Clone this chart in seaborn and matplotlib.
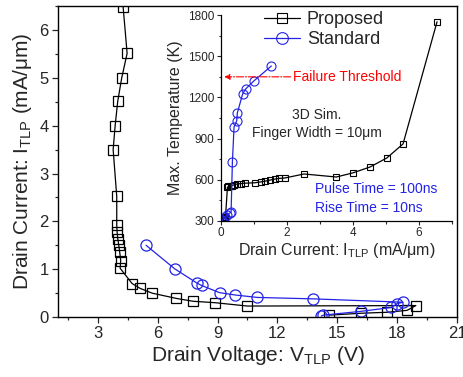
import numpy as np
import pandas as pd
import seaborn as sns
import matplotlib.pyplot as plt
from matplotlib.ticker import MultipleLocator

# main plot: TLP I-V (voltage in V, current in mA/um)
prop_v = [14.6, 16.2, 17.5, 18.5, 18.94, 10.5, 8.88, 7.77, 6.93, 5.72, 5.12, 4.72, 4.12,
          4.15, 4.1, 4.05, 4.0, 3.97, 3.95, 3.95, 3.77, 3.87, 4.0, 4.2, 4.47, 4.27]
prop_i = [0.04, 0.08, 0.1, 0.14, 0.24, 0.23, 0.3, 0.33, 0.39, 0.5, 0.6, 0.7, 1.02,
          1.18, 1.35, 1.5, 1.64, 1.77, 1.92, 2.52, 3.5, 4.0, 4.51, 5.0, 5.51, 6.48]
std_v = [14.2, 14.3, 16.2, 17.7, 18.0, 18.3, 13.8, 11.0, 9.9, 9.1, 8.2, 7.97, 6.85, 5.42]
std_i = [0.02, 0.04, 0.12, 0.2, 0.28, 0.31, 0.38, 0.41, 0.46, 0.51, 0.66, 0.71, 1.01, 1.5]

# inset: max temperature (K) vs current
prop_ti = [0.04, 0.08, 0.1, 0.14, 0.2, 0.23, 0.3, 0.33, 0.4, 0.48, 0.6, 0.73, 1.03,
           1.23, 1.35, 1.5, 1.64, 1.77, 1.94, 2.52, 3.5, 4.0, 4.52, 5.03, 5.52, 6.55]
prop_t = [305, 312, 318, 328, 545, 552, 555, 558, 563, 568, 572, 575, 578,
          585, 590, 598, 605, 610, 613, 642, 620, 650, 693, 759, 861, 1751]
std_ti = [0.02, 0.04, 0.12, 0.2, 0.27, 0.31, 0.35, 0.4, 0.48, 0.5, 0.66, 0.75, 1.0, 1.53]
std_t = [302, 306, 330, 345, 358, 364, 730, 985, 1028, 1087, 1225, 1261, 1320, 1429]

failure_t = 1350
blue = "#2323e6"

sns.set_theme(style="ticks")
plt.rcParams["font.family"] = ["Liberation Sans", "DejaVu Sans"]
plt.rcParams["mathtext.fontset"] = "custom"
plt.rcParams["mathtext.rm"] = "Liberation Sans"
plt.rcParams["mathtext.it"] = "Liberation Sans:italic"

fig = plt.figure(figsize=(4.63, 3.77), dpi=100)
ax = fig.add_axes([0.125, 0.159, 0.862, 0.825])

main_df = pd.DataFrame({"v": prop_v, "i": prop_i})
std_df = pd.DataFrame({"v": std_v, "i": std_i})
sns.lineplot(data=main_df, x="v", y="i", sort=False, estimator=None, ax=ax,
             color="black", lw=0.9, marker="s", markersize=6.5, markerfacecolor="none",
             markeredgecolor="black", markeredgewidth=0.9)
sns.lineplot(data=std_df, x="v", y="i", sort=False, estimator=None, ax=ax,
             color=blue, lw=0.9, marker="o", markersize=8, markerfacecolor="none",
             markeredgecolor=blue, markeredgewidth=0.9)

ax.set_xlim(1, 21)
ax.set_ylim(0, 6.5)
ax.xaxis.set_major_locator(MultipleLocator(3))
ax.xaxis.set_minor_locator(MultipleLocator(1.5))
ax.yaxis.set_major_locator(MultipleLocator(1))
ax.yaxis.set_minor_locator(MultipleLocator(0.5))
ax.tick_params(which="both", direction="out", top=False, right=False, labelsize=12, pad=2)
ax.tick_params(which="major", length=4.5, width=0.9)
ax.tick_params(which="minor", length=2.5, width=0.9)
for s in ax.spines.values():
    s.set_linewidth(1.0)
    s.set_color("black")
ax.set_xlabel(r"Drain Voltage: V$_{\rm TLP}$ (V)", fontsize=15, labelpad=2)
ax.set_ylabel(r"Drain Current: I$_{\rm TLP}$ (mA/μm)", fontsize=15, labelpad=4)

# inset
ins = fig.add_axes([0.477, 0.414, 0.499, 0.546])
ins.patch.set_alpha(0)
ins_p = pd.DataFrame({"i": prop_ti, "t": prop_t})
ins_s = pd.DataFrame({"i": std_ti, "t": std_t})
sns.lineplot(data=ins_p, x="i", y="t", sort=False, estimator=None, ax=ins,
             color="black", lw=0.9, marker="s", markersize=5, markerfacecolor="none",
             markeredgecolor="black", markeredgewidth=0.8, label="Proposed")
sns.lineplot(data=ins_s, x="i", y="t", sort=False, estimator=None, ax=ins,
             color=blue, lw=0.9, marker="o", markersize=6.5, markerfacecolor="none",
             markeredgecolor=blue, markeredgewidth=0.8, label="Standard")
ins.set_xlim(0, 7)
ins.set_ylim(300, 1800)
ins.xaxis.set_major_locator(MultipleLocator(2))
ins.xaxis.set_minor_locator(MultipleLocator(1))
ins.yaxis.set_major_locator(MultipleLocator(300))
ins.yaxis.set_minor_locator(MultipleLocator(150))
ins.tick_params(which="both", direction="out", labelsize=8.5, pad=1.5)
ins.tick_params(which="major", length=3, width=0.8)
ins.tick_params(which="minor", length=1.8, width=0.8)
sns.despine(ax=ins)
for s in ins.spines.values():
    s.set_linewidth(0.9)
    s.set_color("black")
ins.set_xlabel(r"Drain Current: I$_{\rm TLP}$ (mA/μm)", fontsize=11.5, labelpad=1)
ins.set_ylabel("Max. Temperature (K)", fontsize=11.5, labelpad=4)

ins.annotate("", xy=(0.02, failure_t), xytext=(2.2, failure_t),
             arrowprops=dict(arrowstyle="-|>", color="red", lw=0.8, ls="-.",
                             mutation_scale=8))
ins.text(2.2, failure_t, "Failure Threshold", color="red", fontsize=10,
         va="center", ha="left")
ins.text(2.9, 1072, "3D Sim.", fontsize=10, ha="center", va="center")
ins.text(2.9, 941, "Finger Width = 10μm", fontsize=10, ha="center", va="center")
ins.text(2.85, 533, "Pulse Time = 100ns", fontsize=10, color=blue, ha="left", va="center")
ins.text(2.85, 395, "Rise Time = 10ns", fontsize=10, color=blue, ha="left", va="center")

ins.legend(loc="upper left", bbox_to_anchor=(0.13, 1.08), frameon=False, fontsize=13,
           handlelength=2.0, handletextpad=0.4, labelspacing=0.15, borderpad=0.2,
           markerscale=1.3)

fig.savefig("out.png", dpi=100)
